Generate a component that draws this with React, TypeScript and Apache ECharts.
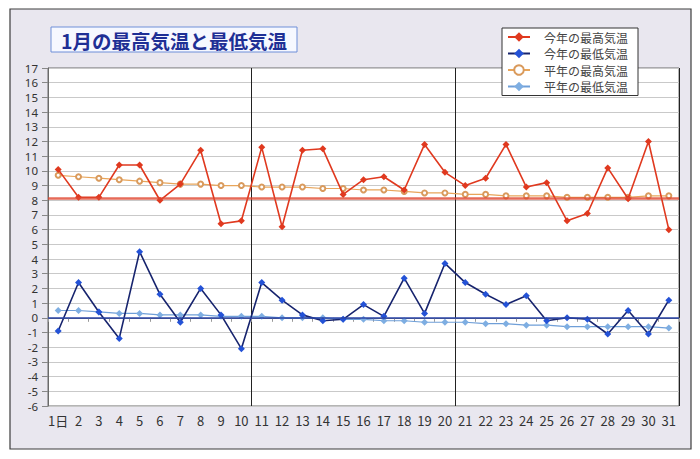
import React, { useEffect, useRef } from "react";
import * as echarts from "echarts";

const days = ["1日", "2", "3", "4", "5", "6", "7", "8", "9", "10", "11", "12", "13", "14", "15", "16", "17", "18", "19", "20", "21", "22", "23", "24", "25", "26", "27", "28", "29", "30", "31"];

const maxThisYear = [10.1, 8.2, 8.2, 10.4, 10.4, 8.0, 9.1, 11.4, 6.4, 6.6, 11.6, 6.2, 11.4, 11.5, 8.4, 9.4, 9.6, 8.7, 11.8, 9.9, 9.0, 9.5, 11.8, 8.9, 9.2, 6.6, 7.1, 10.2, 8.1, 12.0, 6.0];
const minThisYear = [-0.9, 2.4, 0.4, -1.4, 4.5, 1.6, -0.3, 2.0, 0.2, -2.1, 2.4, 1.2, 0.2, -0.2, -0.1, 0.9, 0.1, 2.7, 0.3, 3.7, 2.4, 1.6, 0.9, 1.5, -0.2, 0.0, -0.1, -1.1, 0.5, -1.1, 1.2];
const maxNormal = [9.7, 9.6, 9.5, 9.4, 9.3, 9.2, 9.1, 9.1, 9.0, 9.0, 8.9, 8.9, 8.9, 8.8, 8.8, 8.7, 8.7, 8.6, 8.5, 8.5, 8.4, 8.4, 8.3, 8.3, 8.3, 8.2, 8.2, 8.2, 8.2, 8.3, 8.3];
const minNormal = [0.5, 0.5, 0.4, 0.3, 0.3, 0.2, 0.2, 0.2, 0.1, 0.1, 0.1, 0.0, 0.0, 0.0, -0.1, -0.1, -0.2, -0.2, -0.3, -0.3, -0.3, -0.4, -0.4, -0.5, -0.5, -0.6, -0.6, -0.6, -0.6, -0.6, -0.7];

const seriesNames = ["今年の最高気温", "今年の最低気温", "平年の最高気温", "平年の最低気温"];
const titleText = "1月の最高気温と最低気温";
const refMaxLine = 8.15;
const zeroLine = 0;
const dividerIndices = [10, 20];

const FONT = "'Noto Sans CJK JP', 'Noto Sans', sans-serif";

export default function App() {
  const ref = useRef<HTMLDivElement>(null);

  useEffect(() => {
    document.body.style.margin = "0";
    const chart = echarts.init(ref.current!, null, { renderer: "svg" });
    chart.setOption({
      animation: false,
      textStyle: { fontFamily: FONT },
      graphic: [
        {
          type: "rect",
          z: -100,
          shape: { x: 10, y: 9, width: 681, height: 440 },
          style: { fill: "#e9e7ef", stroke: "#3c3c3c", lineWidth: 1.2 },
        },
        {
          type: "rect",
          z: 10,
          shape: { x: 51, y: 27, width: 246, height: 25 },
          style: { fill: "#f6f8ff", stroke: "#6e8fd8", lineWidth: 1 },
        },
        {
          type: "text",
          z: 11,
          x: 174,
          y: 40,
          style: {
            text: titleText,
            fill: "#1e2f95",
            font: `bold 19.5px ${FONT}`,
            align: "center",
            verticalAlign: "middle",
          },
        },
      ],
      legend: {
        data: seriesNames,
        orient: "vertical",
        left: 502,
        top: 28,
        backgroundColor: "#ffffff",
        borderColor: "#333333",
        borderWidth: 1,
        padding: [3, 10, 3, 5],
        itemGap: 4.5,
        itemWidth: 22,
        itemHeight: 12,
        textStyle: { fontSize: 12, color: "#444", padding: [0, 0, 0, 9], fontFamily: FONT },
      },
      grid: {
        left: 48,
        top: 68,
        right: 21,
        bottom: 53,
        show: true,
        backgroundColor: "#ffffff",
        borderColor: "#6a6a6a",
        borderWidth: 1,
      },
      xAxis: {
        type: "category",
        data: days,
        boundaryGap: true,
        axisLine: { show: true, lineStyle: { color: "#6a6a6a" } },
        axisTick: { show: true, interval: 0, length: 4, lineStyle: { color: "#999" } },
        axisLabel: { interval: 0, fontSize: 13, color: "#333", margin: 8, fontFamily: FONT },
        splitLine: {
          show: true,
          interval: (index: number) => dividerIndices.includes(index),
          lineStyle: { color: "#222", width: 1 },
        },
      },
      yAxis: {
        type: "value",
        min: -6,
        max: 17,
        interval: 1,
        axisLine: { show: true, lineStyle: { color: "#6a6a6a" } },
        axisTick: { show: true, length: 6, lineStyle: { color: "#888" } },
        axisLabel: { fontSize: 11.5, lineHeight: 11, color: "#333", margin: 10, fontFamily: "'Noto Sans', sans-serif" },
        splitLine: { show: true, lineStyle: { color: "#c9c9c9", width: 1 } },
      },
      series: [
        {
          name: seriesNames[2],
          type: "line",
          data: maxNormal,
          symbol: "emptyCircle",
          symbolSize: 5,
          lineStyle: { color: "#e8a55a", width: 1.2 },
          itemStyle: { color: "#d99a5c", borderWidth: 1.2 },
          z: 2,
        },
        {
          name: seriesNames[3],
          type: "line",
          data: minNormal,
          symbol: "diamond",
          symbolSize: 7,
          lineStyle: { color: "#6f9fd8", width: 1.2 },
          itemStyle: { color: "#7eaee2" },
          z: 2,
        },
        {
          name: seriesNames[0],
          type: "line",
          data: maxThisYear,
          symbol: "diamond",
          symbolSize: 7,
          lineStyle: { color: "#e0391f", width: 1.6 },
          itemStyle: { color: "#e0391f" },
          z: 3,
          markLine: {
            silent: true,
            symbol: "none",
            label: { show: false },
            lineStyle: { color: "rgba(224,70,48,0.8)", width: 2.5, type: "solid" },
            data: [{ yAxis: refMaxLine }],
          },
        },
        {
          name: seriesNames[1],
          type: "line",
          data: minThisYear,
          symbol: "diamond",
          symbolSize: 7,
          lineStyle: { color: "#17246e", width: 1.6 },
          itemStyle: { color: "#2452d6" },
          z: 3,
          markLine: {
            silent: true,
            symbol: "none",
            label: { show: false },
            lineStyle: { color: "#2a45a8", width: 1.5, type: "solid" },
            data: [{ yAxis: zeroLine }],
          },
        },
      ],
    });
    return () => chart.dispose();
  }, []);

  return <div ref={ref} style={{ width: 700, height: 459 }} />;
}
